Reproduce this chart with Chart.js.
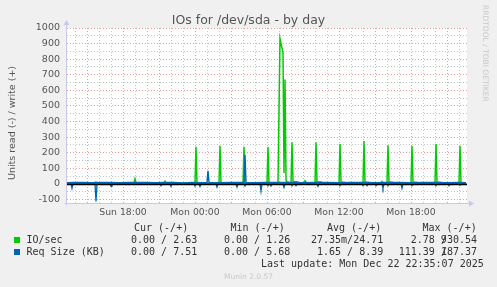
<!DOCTYPE html>
<html>
<head>
<meta charset="utf-8">
<script src="https://cdn.jsdelivr.net/npm/chart.js@4/dist/chart.umd.min.js"></script>
<style>
  html,body{margin:0;padding:0;background:#f0f0f0;}
  #wrap{position:relative;width:497px;height:287px;overflow:hidden;background:#f0f0f0;}
  #c{position:absolute;left:0;top:0;}
  .t{position:absolute;white-space:pre;}
  #title{left:0;width:497px;top:12px;text-align:center;font:12.5px "DejaVu Sans";color:#555;line-height:15px;}
  #ytitle{left:6px;top:70px;writing-mode:vertical-rl;transform:rotate(180deg);font:9.5px "DejaVu Sans";color:#555;height:110px;text-align:center;}
  #wm{left:481px;top:5px;writing-mode:vertical-rl;font:7.5px "DejaVu Sans";color:#c8c8c8;}
  .m{font:10px "DejaVu Sans Mono";color:#333;line-height:12px;}
  .sq{position:absolute;width:6px;height:6px;}
  #munin{left:0;width:497px;text-align:center;top:272px;font:7.5px "DejaVu Sans";color:#c8c8c8;}
</style>
</head>
<body>
<div id="wrap">
  <canvas id="c" width="497" height="287"></canvas>
  <div id="title" class="t"></div>
  <div id="ytitle" class="t"></div>
  <div id="wm" class="t"></div>
  <div id="legend"></div>
  <div id="munin" class="t"></div>
</div>
<script>
// ---- text ----
const chartTitle = "IOs for /dev/sda - by day";
const yAxisTitle = "Units read (-) / write (+)";
const watermark = "RRDTOOL / TOBI OETIKER";
const footer = "Munin 2.0.57";
const lastUpdate = "Last update: Mon Dec 22 22:35:07 2025";

// ---- axes ----
const xStart = "Sun 13:20";
const xEnd = "Mon 22:40";
const xLabelHours = [18, 24, 30, 36, 42];
const xLabels = ["Sun 18:00", "Mon 00:00", "Mon 06:00", "Mon 12:00", "Mon 18:00"];
const yMin = -122, yMax = 1000;

// ---- series: [time, value] ----
// IO/sec read (plotted negative)
const ioRead = [["Sun 13:20",0],["Mon 07:00",0],["Mon 07:05",2.78],["Mon 07:10",0],["Mon 22:35",0]];
// IO/sec write (+)
const ioWrite = [
 ["Sun 13:20",4],["Sun 14:00",5],["Sun 15:00",4],["Sun 16:00",5],["Sun 17:00",4],["Sun 18:00",5],
 ["Sun 18:55",5],["Sun 19:00",32],["Sun 19:05",6],["Sun 20:00",4],["Sun 21:25",5],["Sun 21:30",17],["Sun 21:35",5],
 ["Sun 23:00",4],["Mon 00:00",5],["Mon 00:05",239],["Mon 00:10",6],["Mon 01:00",4],
 ["Mon 02:00",5],["Mon 02:05",243],["Mon 02:10",6],["Mon 03:00",4],
 ["Mon 04:00",5],["Mon 04:05",239],["Mon 04:10",6],["Mon 05:00",4],
 ["Mon 06:00",5],["Mon 06:05",237],["Mon 06:10",6],["Mon 06:55",10],
 ["Mon 07:05",930.54],["Mon 07:15",870],["Mon 07:20",840],["Mon 07:25",70],["Mon 07:30",670],["Mon 07:35",25],["Mon 07:40",12],
 ["Mon 08:00",6],["Mon 08:05",268],["Mon 08:10",15],["Mon 08:30",14],["Mon 08:45",6],["Mon 09:05",7],["Mon 09:10",20],["Mon 09:20",6],
 ["Mon 10:00",6],["Mon 10:05",267],["Mon 10:10",14],["Mon 10:30",12],["Mon 10:45",5],
 ["Mon 12:00",6],["Mon 12:05",256],["Mon 12:10",12],["Mon 12:30",10],["Mon 12:45",5],
 ["Mon 14:00",6],["Mon 14:05",275],["Mon 14:10",12],["Mon 14:30",10],["Mon 14:45",5],
 ["Mon 15:30",6],["Mon 15:35",15],["Mon 15:40",6],
 ["Mon 16:00",6],["Mon 16:05",248],["Mon 16:10",12],["Mon 16:30",10],["Mon 16:45",5],
 ["Mon 18:00",6],["Mon 18:05",243],["Mon 18:10",12],["Mon 18:30",10],["Mon 18:45",5],
 ["Mon 20:00",6],["Mon 20:05",256],["Mon 20:10",12],["Mon 20:30",10],["Mon 20:45",5],
 ["Mon 22:00",6],["Mon 22:05",243],["Mon 22:10",10],["Mon 22:35",2.63]
];
// Req Size read (plotted negative)
const reqRead = [
 ["Sun 13:20",0],["Sun 13:40",0],["Sun 13:45",28],["Sun 13:50",0],
 ["Sun 15:40",0],["Sun 15:45",111.39],["Sun 15:50",0],
 ["Sun 16:55",0],["Sun 17:00",15],["Sun 17:05",0],
 ["Sun 21:05",0],["Sun 21:10",11],["Sun 21:15",0],
 ["Sun 21:55",0],["Sun 22:00",15],["Sun 22:05",0],
 ["Sun 23:55",0],["Mon 00:00",13],["Mon 00:05",0],
 ["Mon 00:20",0],["Mon 00:25",16],["Mon 00:30",0],
 ["Mon 01:45",0],["Mon 01:50",20],["Mon 01:55",0],
 ["Mon 03:25",0],["Mon 03:30",20],["Mon 03:35",0],
 ["Mon 04:05",0],["Mon 04:10",13],["Mon 04:15",0],
 ["Mon 05:25",0],["Mon 05:30",47],["Mon 05:35",0],
 ["Mon 06:00",0],["Mon 06:05",11],["Mon 06:10",0],
 ["Mon 06:15",0],["Mon 06:20",13],["Mon 06:25",0],
 ["Mon 07:20",0],["Mon 07:25",22],["Mon 07:30",0],
 ["Mon 08:00",0],["Mon 08:05",11],["Mon 08:10",0],
 ["Mon 08:20",0],["Mon 08:25",11],["Mon 08:30",0],
 ["Mon 10:10",0],["Mon 10:15",15],["Mon 10:20",0],
 ["Mon 12:00",0],["Mon 12:05",11],["Mon 12:10",0],
 ["Mon 13:55",0],["Mon 14:00",11],["Mon 14:05",0],
 ["Mon 14:15",0],["Mon 14:20",11],["Mon 14:25",0],
 ["Mon 15:00",0],["Mon 15:05",11],["Mon 15:10",0],
 ["Mon 15:35",0],["Mon 15:40",27],["Mon 15:45",0],
 ["Mon 16:00",0],["Mon 16:05",11],["Mon 16:10",0],
 ["Mon 17:10",0],["Mon 17:15",28],["Mon 17:20",0],
 ["Mon 18:00",0],["Mon 18:05",11],["Mon 18:10",0],
 ["Mon 20:00",0],["Mon 20:05",11],["Mon 20:10",0],
 ["Mon 21:05",0],["Mon 21:10",11],["Mon 21:15",0],
 ["Mon 22:00",0],["Mon 22:05",8],["Mon 22:10",0],["Mon 22:35",0]
];
// Req Size write (+)
const reqWrite = [
 ["Sun 13:20",8],["Sun 13:55",10],["Sun 14:40",9],["Sun 15:30",8],["Sun 15:45",12],["Sun 16:00",9],["Sun 16:50",10],
 ["Sun 17:40",8],["Sun 18:30",9],["Sun 19:15",10],["Sun 20:00",9],["Sun 20:45",8],["Sun 21:30",10],["Sun 22:15",9],
 ["Sun 23:00",7],["Sun 23:45",9],["Mon 00:30",8],["Mon 01:00",9],["Mon 01:05",85],["Mon 01:10",9],["Mon 02:00",8],
 ["Mon 03:00",10],["Mon 04:05",9],["Mon 04:10",187.37],["Mon 04:15",9],["Mon 05:00",8],["Mon 06:00",9],["Mon 07:00",10],
 ["Mon 08:00",9],["Mon 09:00",8],["Mon 10:00",10],["Mon 11:00",9],["Mon 12:00",8],["Mon 13:00",10],["Mon 14:00",9],
 ["Mon 15:00",8],["Mon 16:00",10],["Mon 17:00",9],["Mon 18:00",8],["Mon 19:00",10],["Mon 20:00",9],["Mon 21:00",8],
 ["Mon 22:00",9],["Mon 22:35",7.51]
];

// ---- legend ----
const legendHeaders = ["Cur (-/+)", "Min (-/+)", "Avg (-/+)", "Max (-/+)"];
const legendNames = ["IO/sec", "Req Size (KB)"];
const legendColors = ["#00cc00", "#0066b3"];
const legendCur = ["0.00 / 2.63", "0.00 / 7.51"];
const legendMin = ["0.00 / 1.26", "0.00 / 5.68"];
const legendAvg = ["27.35m/24.71", " 1.65 / 8.39"];
const legendMaxRead = ["2.78", "111.39"];
const legendMaxWrite = ["930.54", "187.37"];

// ---- helpers ----
function hrs(s){const [d,hm]=s.split(" ");const [h,m]=hm.split(":").map(Number);return (d==="Mon"?24:0)+h+m/60;}
function pts(arr,sign){return arr.map(([t,v])=>({x:hrs(t),y:sign*v}));}

document.getElementById("title").textContent = chartTitle;
document.getElementById("ytitle").textContent = yAxisTitle;
document.getElementById("wm").textContent = watermark;
document.getElementById("munin").textContent = footer;

// legend html
(function(){
  const L = document.getElementById("legend");
  function add(txt,x,y,cls){const d=document.createElement("div");d.className="t "+(cls||"m");d.style.left=x+"px";d.style.top=y+"px";d.textContent=txt;L.appendChild(d);return d;}
  const hx=[134,230.5,327,422.5];
  legendHeaders.forEach((h,i)=>add(h,hx[i],221.5));
  const rowY=[233.5,245.5];
  legendNames.forEach((n,i)=>{
    const s=document.createElement("div");s.className="sq";s.style.left="14px";s.style.top=(rowY[i]+3.5)+"px";s.style.background=legendColors[i];L.appendChild(s);
    add(n,26.5,rowY[i]);
    add(legendCur[i],131,rowY[i]);
    add(legendMin[i],224,rowY[i]);
    add(legendAvg[i],311,rowY[i]);
    const mr=legendMaxRead[i], mw=legendMaxWrite[i];
    const mtxt = mr+" "+mw;
    const mx = 477 - mtxt.length*6.02;
    add(mtxt,mx,rowY[i]);
    add("/",477 - (mw.length)*6.02,rowY[i]);
  });
  add(lastUpdate,261,257.5);
})();

const RED="rgba(230,120,120,0.75)", GRAY="rgba(190,190,190,0.9)", AXIS="#c8c8f0";

const bgPlugin = {
  id:"bg",
  beforeDraw(chart){
    const {ctx,chartArea:a}=chart;
    ctx.save();ctx.fillStyle="#ffffff";ctx.fillRect(a.left,a.top,a.right-a.left,a.bottom-a.top);ctx.restore();
  },
  afterDatasetsDraw(chart){
    const {ctx,chartArea:a,scales}=chart;
    const y0=scales.y.getPixelForValue(0);
    ctx.save();
    ctx.strokeStyle="#000";ctx.lineWidth=1.4;
    ctx.beginPath();ctx.moveTo(a.left,y0+0.6);ctx.lineTo(a.right,y0+0.6);ctx.stroke();
    // axes
    ctx.strokeStyle=AXIS;ctx.fillStyle=AXIS;ctx.lineWidth=1;
    const lx=a.left-0.5, by=a.bottom+0.5;
    ctx.beginPath();ctx.moveTo(lx,by+2);ctx.lineTo(lx,a.top-4);ctx.stroke();
    ctx.beginPath();ctx.moveTo(lx-3,a.top-3);ctx.lineTo(lx+3,a.top-3);ctx.lineTo(lx,a.top-8);ctx.closePath();ctx.fill();
    ctx.beginPath();ctx.moveTo(lx-2,by);ctx.lineTo(a.right+3,by);ctx.stroke();
    ctx.beginPath();ctx.moveTo(a.right+2,by-3);ctx.lineTo(a.right+2,by+3);ctx.lineTo(a.right+7,by);ctx.closePath();ctx.fill();
    ctx.restore();
  }
};

const hourTicks=[];for(let h=14;h<=46;h++)hourTicks.push(h);
const yTicks=[];for(let v=-100;v<=1000;v+=50)yTicks.push(v);

new Chart(document.getElementById("c"),{
  type:"line",
  data:{datasets:[
    {label:"IO/sec read",data:pts(ioRead,-1),borderColor:"#00cc00",borderWidth:1.5,order:3},
    {label:"IO/sec",data:pts(ioWrite,1),borderColor:"#00cc00",borderWidth:1.5,order:2},
    {label:"Req Size read",data:pts(reqRead,-1),borderColor:"#0066b3",borderWidth:1.3,order:1},
    {label:"Req Size (KB)",data:pts(reqWrite,1),borderColor:"#0066b3",borderWidth:1.4,order:0}
  ]},
  options:{
    responsive:false,animation:false,devicePixelRatio:1,
    parsing:false,
    elements:{line:{tension:0,fill:false},point:{radius:0}},
    layout:{padding:{left:0,top:28,right:30,bottom:0}},
    plugins:{legend:{display:false},title:{display:false},tooltip:{enabled:false}},
    scales:{
      x:{type:"linear",min:hrs(xStart),max:hrs(xEnd),
        afterFit(s){s.height=84;},
        afterBuildTicks(s){s.ticks=hourTicks.map(v=>({value:v}));},
        grid:{color:c=>(c.tick&&c.tick.value%3===0)?RED:GRAY,lineWidth:1,drawTicks:false},
        border:{display:false,dash:[1,2]},
        ticks:{autoSkip:false,maxRotation:0,minRotation:0,padding:4,color:"#555",font:{family:"DejaVu Sans",size:9.3},
          callback:v=>{const i=xLabelHours.indexOf(v);return i>=0?xLabels[i]:"";}}
      },
      y:{type:"linear",min:yMin,max:yMax,
        afterFit(s){s.width=67;},
        afterBuildTicks(s){s.ticks=yTicks.map(v=>({value:v}));},
        grid:{color:c=>(c.tick&&c.tick.value%100===0)?RED:GRAY,lineWidth:1,drawTicks:false},
        border:{display:false,dash:[1,2]},
        ticks:{autoSkip:false,padding:7,color:"#555",font:{family:"DejaVu Sans",size:9.5},
          callback:v=>(v%100===0?String(v):"")}
      }
    }
  },
  plugins:[bgPlugin]
});
</script>
</body>
</html>
